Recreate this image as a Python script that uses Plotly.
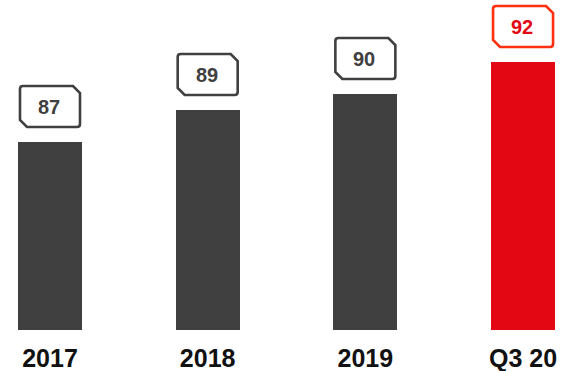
import plotly.graph_objects as go

categories = ["2017", "2018", "2019", "Q3 20"]
values = [87, 89, 90, 92]
highlight = [False, False, False, True]

GRAY = "#404040"
RED = "#e30613"
RED_BORDER = "#ff3010"

x_pos = list(range(len(categories)))
bar_colors = [RED if h else GRAY for h in highlight]

fig = go.Figure()
fig.add_trace(go.Bar(
    x=x_pos, y=values, marker=dict(color=bar_colors, line=dict(width=0)),
    width=0.405, hoverinfo="skip",
))

# callout box path (pixels relative to bar top, y up)
box_path = ("M -27,56 L 23,56 L 30,49 L 30,18 Q 30,15 27,15 L -23,15 "
            "L -30,22 L -30,53 Q -30,56 -27,56 Z")

for xi, v, h in zip(x_pos, values, highlight):
    col = RED_BORDER if h else GRAY
    fig.add_shape(type="path", xref="x", yref="y", xsizemode="pixel", ysizemode="pixel",
                  xanchor=xi, yanchor=v, path=box_path,
                  line=dict(color=col, width=2.6), fillcolor="white", layer="above")
    fig.add_annotation(x=xi, y=v, xref="x", yref="y", text=str(v), showarrow=False,
                       yshift=35.5, xshift=-1,
                       font=dict(family="Liberation Sans, Arial", size=20,
                                 color=RED if h else GRAY, weight="bold"))

fig.update_layout(
    width=562, height=371,
    margin=dict(l=0, r=0, t=0, b=41),
    paper_bgcolor="white", plot_bgcolor="white",
    showlegend=False,
    bargap=0,
)
fig.update_xaxes(
    range=[-0.317, 3.247], tickvals=x_pos, ticktext=categories,
    showgrid=False, zeroline=False, showline=False, ticks="",
    tickfont=dict(family="Liberation Sans, Arial", size=25, color="#111111", weight="bold"),
    ticklabelstandoff=11, automargin=False, fixedrange=True,
)
fig.update_yaxes(
    range=[75.25, 95.875], visible=False, showgrid=False, zeroline=False,
    automargin=False, fixedrange=True,
)

fig.write_html("out.html", config={"displayModeBar": False},
               post_script="document.body.style.margin='0';document.body.style.overflow='hidden';")
